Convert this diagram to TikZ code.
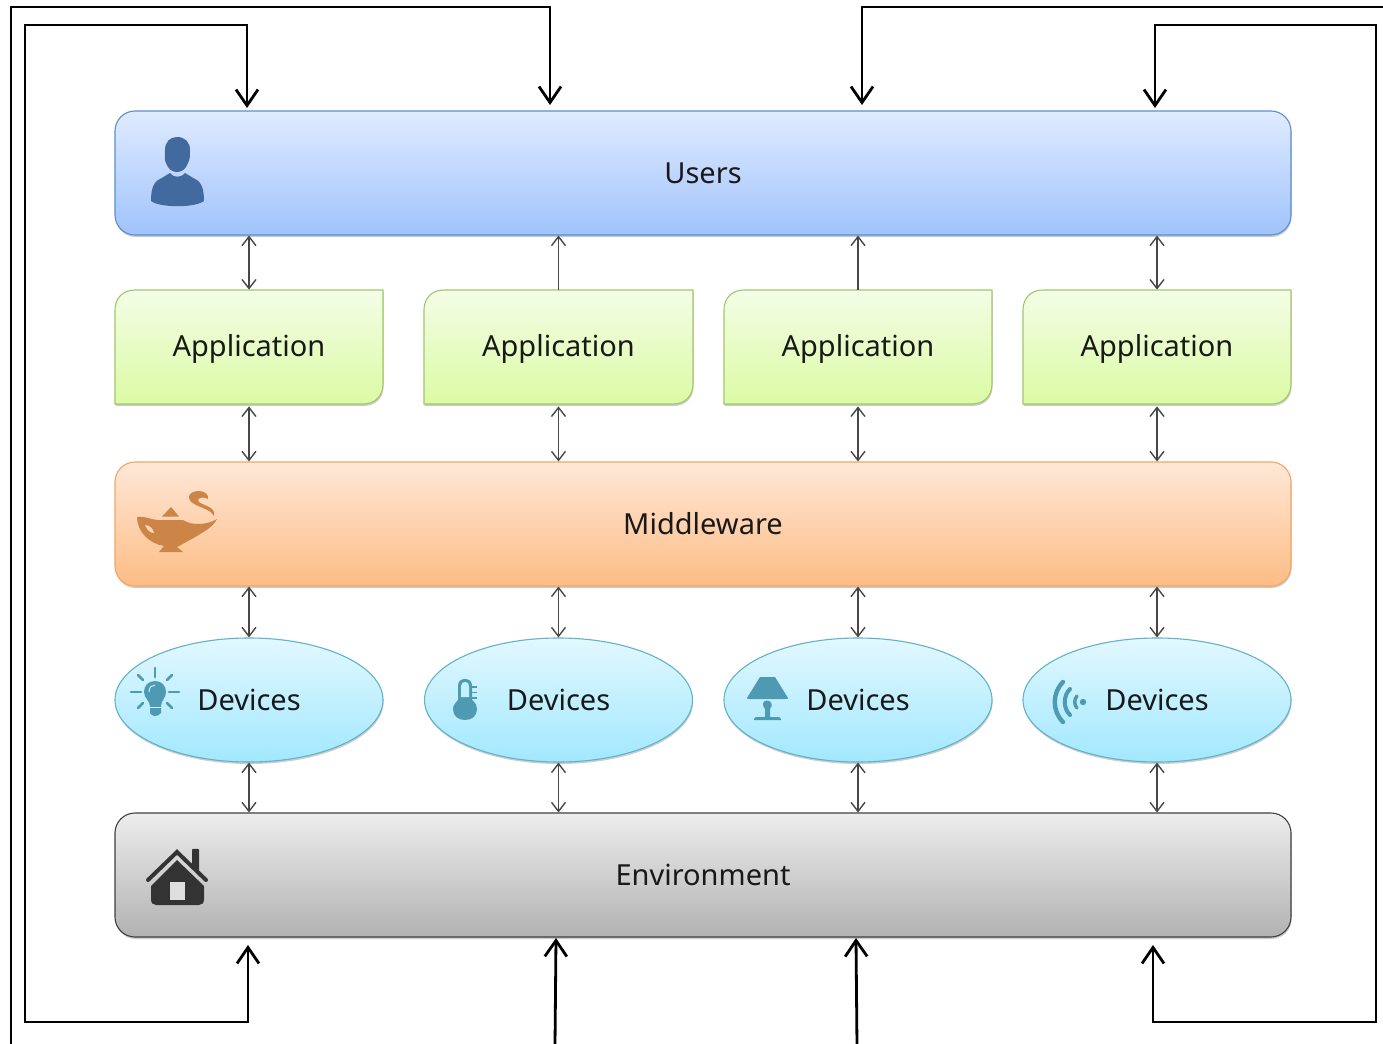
\documentclass[tikz,border=0pt]{standalone}
\usepackage{fontspec}
\setmainfont{Noto Sans}
\usetikzlibrary{arrows.meta,shapes.geometric,shadows,calc}
\definecolor{iconblue}{HTML}{436A9E}
\definecolor{iconorange}{HTML}{CD8547}
\definecolor{iconteal}{HTML}{4F9AB3}
\definecolor{icondark}{HTML}{333333}
\definecolor{blueT}{HTML}{E0EBFF}\definecolor{blueB}{HTML}{A0C3FB}\definecolor{blueD}{HTML}{5B8FCB}
\definecolor{orangeT}{HTML}{FEE8D8}\definecolor{orangeB}{HTML}{FDBC85}\definecolor{orangeD}{HTML}{F3A760}
\definecolor{greyT}{HTML}{EDEDED}\definecolor{greyB}{HTML}{B2B2B2}
\definecolor{greenT}{HTML}{F4FDE6}\definecolor{greenB}{HTML}{DBFBA5}\definecolor{greenD}{HTML}{A3C66E}
\definecolor{tealT}{HTML}{E2F8FF}\definecolor{tealB}{HTML}{A2E8FF}\definecolor{tealD}{HTML}{62B2C8}
\tikzset{
  label text/.style={font=\fontsize{14.5}{16}\selectfont,text=black!90},
  softshadow/.style={drop shadow={shadow xshift=.3pt,shadow yshift=-1pt,opacity=.2,fill=black}},
  layer/.style={rectangle,rounded corners=10pt,minimum width=588pt,minimum height=62pt,inner sep=0pt,line width=.55pt,label text,softshadow},
  bluelayer/.style={layer,draw=blueD,top color=blueT,bottom color=blueB},
  orangelayer/.style={layer,draw=orangeD,top color=orangeT,bottom color=orangeB},
  greylayer/.style={layer,draw=black!75,top color=greyT,bottom color=greyB},
  appshape/.style={draw=greenD,line width=.55pt,top color=greenT,bottom color=greenB,softshadow},
  appnode/.style={rectangle,minimum width=134pt,minimum height=57pt,inner sep=0pt,label text,text height=12pt,text depth=2.2pt},
  devnode/.style={ellipse,minimum width=134pt,minimum height=62pt,inner sep=0pt,draw=tealD,line width=.55pt,top color=tealT,bottom color=tealB,label text,softshadow},
  thin link/.style={draw=black!72,line width=.75pt,>={Straight Barb[length=4.5pt,width=7pt,line width=.7pt]}},
  thick link/.style={draw=black,line width=1.4pt,>={Straight Barb[length=8pt,width=11pt,line width=1.4pt]}},
}
\begin{document}
\begin{tikzpicture}[x=.5pt,y=-.5pt]
\useasboundingbox (0,0) rectangle (1383,1044);
\fill[white] (0,0) rectangle (1383,1044);
% layers
\node[bluelayer] (users) at (703,173) {Users};
\node[orangelayer] (middle) at (703,524) {Middleware};
\node[greylayer] (env) at (703,875) {Environment};
% application shapes
\foreach \l/\r in {115/383,424/693,724/992,1023/1291}{
  \path[appshape] (\l,404) -- (\l,310) .. controls (\l,298) and (\l+8,290) .. (\l+20,290) -- (\r,290) -- (\r,384) .. controls (\r,396) and (\r-8,404) .. (\r-20,404) -- cycle;
}
\node[appnode] (a1) at (249,347) {Application};
\node[appnode] (a2) at (558.5,347) {Application};
\node[appnode] (a3) at (858,347) {Application};
\node[appnode] (a4) at (1157,347) {Application};
% devices
\node[devnode] (d1) at (249,700) {Devices};
\node[devnode] (d2) at (558.5,700) {Devices};
\node[devnode] (d3) at (858,700) {Devices};
\node[devnode] (d4) at (1157,700) {Devices};
% thin connectors
\draw[thin link,<->] (a1.north) -- (a1.north |- users.south);
\draw[thin link,->] (a2.north) -- (a2.north |- users.south);
\draw[thin link,->] (a3.north) -- (a3.north |- users.south);
\draw[thin link,<->] (a4.north) -- (a4.north |- users.south);
\foreach \n in {1,2,3,4}{
  \draw[thin link,<->,shorten <=1pt] (a\n.south) -- (a\n.south |- middle.north);
  \draw[thin link,<->] (d\n.north) -- (d\n.north |- middle.south);
  \draw[thin link,<->] (d\n.south) -- (d\n.south |- env.north);
}
% outer feedback lines
\coordinate (ulA) at (247,108);
\coordinate (ulB) at (550,105);
\coordinate (ulC) at (862,105);
\coordinate (ulD) at (1155,108);
\coordinate (elA) at (248,945);
\coordinate (elB) at (556,938);
\coordinate (elC) at (856,938);
\coordinate (elD) at (1153,945);
\coordinate (offL) at (11,1046);
\coordinate (offR) at (1385,7);
\coordinate (offB) at (555,1046);
\coordinate (offC) at (857,1046);
\draw[thick link,<->] (ulA) -- (247,25) -- (25,25) -- (25,1022) -- (248,1022) -- (elA);
\draw[thick link,<->] (ulD) -- (1155,25) -- (1376,25) -- (1376,1022) -- (1153,1022) -- (elD);
\draw[thick link,->] (offL) -- (11,7) -- (550,7) -- (ulB);
\draw[thick link,->] (offR) -- (862,7) -- (ulC);
\draw[thick link,->] (offB) -- (elB);
\draw[thick link,->] (offC) -- (elC);
% user icon
\fill[iconblue] (177,137) .. controls (185,137) and (190,142) .. (190,150) .. controls (190,155) and (190,160) .. (188,163) .. controls (186,169) and (182,172) .. (177,172) .. controls (172,172) and (168,169) .. (166,163) .. controls (164,160) and (165,155) .. (165,150) .. controls (165,142) and (170,137) .. cycle;
\fill[iconblue] (151,201) .. controls (151,190) and (153,182) .. (160,179) -- (170,173) .. controls (173,178) and (182,178) .. (185,173) -- (195,179) .. controls (202,182) and (204,190) .. (204,201) .. controls (195,208) and (160,208) .. (151,201) -- cycle;
% genie lamp icon
\fill[iconorange] (137,517) .. controls (146,516) and (152,520) .. (158,520) -- (183,520) .. controls (192,526) and (207,525) .. (217,519) .. controls (213,527) and (205,531) .. (197,536) .. controls (188,541) and (181,545) .. (177,547) -- (183,552) -- (159,552) -- (164,546) .. controls (150,544) and (137,532) .. (137,517) -- cycle;
\fill[iconorange] (171,507) -- (162,516.5) -- (179,516.5) -- cycle;
\fill[orangeT!60!orangeB] (145,525) .. controls (150,525) and (153,529) .. (154,533) .. controls (150,533) and (147,530) .. (145,525) -- cycle;
\fill[iconorange] (199,491) .. controls (205,491) and (209,495) .. (208,499) .. controls (205,497) and (199,497) .. (198,500) .. controls (197,503) and (207,505) .. (212,509) .. controls (214,511) and (215,513) .. (214,516) .. controls (211,510) and (202,508) .. (196,505) .. controls (192,503) and (189,501) .. (189,497) .. controls (189,493) and (194,491) .. cycle;
% bulb icon
\foreach \xa/\ya/\xb/\yb in {155/668/155/677,131/692/141/692,169/692/179/692,138/675/143/680,172/675/167/680,138/708/143/703,172/708/167/703}
  \draw[iconteal,line width=1.4pt,line cap=round] (\xa,\ya) -- (\xb,\yb);
\fill[iconteal] (155,681) .. controls (162,681) and (166,686) .. (166,692) .. controls (166,698) and (161,701) .. (161,706) -- (161,713) .. controls (158,717) and (152,717) .. (150,713) -- (150,706) .. controls (150,701) and (144,698) .. (144,692) .. controls (144,686) and (148,681) .. cycle;
\draw[tealT!60!tealB,line width=.5pt] (149,692) .. controls (149,687) and (152,685) .. (155,685);
\draw[tealT!60!tealB,line width=.4pt] (150,707) -- (161,707);
% thermometer icon
\fill[iconteal] (458,686) .. controls (458,681) and (461,679) .. (465,679) .. controls (469,679) and (472,681) .. (472,686) -- (472,700) .. controls (476,703) and (477,706) .. (477,709) .. controls (477,716) and (472,720) .. (465,720) .. controls (458,720) and (453,716) .. (453,709) .. controls (453,706) and (455,703) .. (458,700) -- cycle;
\fill[tealT!55!tealB] (461,686) .. controls (461,683) and (463,682) .. (465,682) .. controls (467,682) and (469,683) .. (469,686) -- (469,697) -- (461,697) -- cycle;
\draw[iconteal,line width=.8pt] (472,687) -- (477,687) (472,692.5) -- (477,692.5) (472,698) -- (477,698);
% table lamp icon
\fill[iconteal] (760,677) -- (775,677) -- (788,698) .. controls (788,699) and (787,699) .. (786,699) -- (749,699) .. controls (748,699) and (747,699) .. (747,698) -- cycle;
\fill[iconteal] (767,700.5) .. controls (772,700.5) and (773,706) .. (770,709) -- (770,717) -- (779,717) .. controls (781,717) and (781,720) .. (781,720) -- (754,720) .. controls (754,720) and (754,717) .. (756,717) -- (765,717) -- (765,709) .. controls (762,706) and (762,700.5) .. cycle;
% wireless icon
\draw[iconteal,line width=2.2pt,line cap=round] (1063,682) .. controls (1052,693) and (1052,711) .. (1063,722);
\draw[iconteal,line width=2pt,line cap=round] (1070,689) .. controls (1063,696) and (1063,708) .. (1070,715);
\draw[iconteal,line width=1.7pt,line cap=round] (1077,696) .. controls (1074,699) and (1074,705) .. (1077,708);
\fill[iconteal] (1083,702) circle [radius=3.2];
% house icon
\fill[icondark] (192,849.5) .. controls (192,848.5) and (199,848.5) .. (199,849.5) -- (199,870) -- (192,866) -- cycle;
\draw[icondark,line width=2pt,line cap=round,line join=miter] (148,880) -- (177,852) -- (206,880);
\fill[icondark] (177,860) -- (204,886) -- (204,899) .. controls (204,903) and (202,905) .. (199,905) -- (156,905) .. controls (153,905) and (151,903) .. (151,899) -- (151,886) -- cycle;
\fill[greyT!75!greyB] (170,882) -- (185,882) -- (185,900) -- (170,900) -- cycle;
\end{tikzpicture}
\end{document}
